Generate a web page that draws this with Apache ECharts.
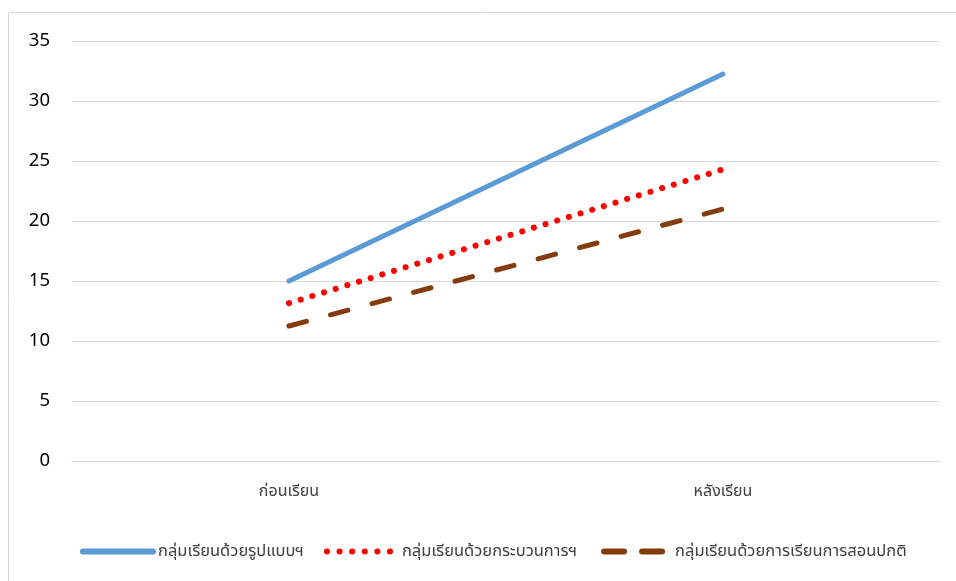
<!DOCTYPE html>
<html><head><meta charset="utf-8">
<script src="https://cdn.jsdelivr.net/npm/echarts@6/dist/echarts.min.js"></script>
<style>html,body{margin:0;padding:0;background:#fff}#c{width:956px;height:581px}</style>
</head><body><div id="c"></div>
<script>
const categories = ['ก่อนเรียน', 'หลังเรียน'];
const seriesNames = ['กลุ่มเรียนด้วยรูปแบบฯ', 'กลุ่มเรียนด้วยกระบวนการฯ', 'กลุ่มเรียนด้วยการเรียนการสอนปกติ'];
const modelGroup = [15.0, 32.25];
const processGroup = [13.15, 24.3];
const normalGroup = [11.25, 21.0];
const yTicks = [0, 5, 10, 15, 20, 25, 30, 35];

const FONT = '"Noto Sans", "Noto Sans Thai", "DejaVu Sans", sans-serif';
const styles = [
  {color: '#5b9bd5', width: 5, type: 'solid', cap: 'round'},
  {color: '#ff0000', width: 6, type: [0.1, 12.1], cap: 'round'},
  {color: '#843c0c', width: 5, type: [18, 25], cap: 'round'}
];
const legendStyles = [
  {color: '#5b9bd5', width: 6, type: 'solid', cap: 'round'},
  {color: '#ff0000', width: 6, type: [0.1, 12.5], cap: 'round'},
  {color: '#843c0c', width: 6, type: [20, 18], cap: 'round', dashOffset: -4}
];
const chart = echarts.init(document.getElementById('c'));
chart.setOption({
  animation: false,
  backgroundColor: '#fff',
  textStyle: {fontFamily: FONT},
  graphic: [{type: 'rect', shape: {x: 8.5, y: 12.5, width: 1000, height: 1000},
    style: {fill: 'none', stroke: '#d9d9d9', lineWidth: 1}, silent: true, z: -1}],
  grid: {left: 72, right: 16, top: 41, bottom: 120, containLabel: false},
  legend: {
    left: 75, top: 538, itemWidth: 70, itemHeight: 14, itemGap: 20,
    textStyle: {fontSize: 16.5, color: '#404040', fontFamily: FONT},
    itemStyle: {opacity: 0},
    data: seriesNames.map((n, i) => ({name: n, itemStyle: {opacity: 0}, lineStyle: legendStyles[i]}))
  },
  xAxis: {
    type: 'category', data: categories, boundaryGap: true,
    axisLine: {lineStyle: {color: '#d9d9d9', width: 1}},
    axisTick: {show: false},
    axisLabel: {margin: 22, fontSize: 16, color: '#404040', fontFamily: FONT}
  },
  yAxis: {
    type: 'value', min: yTicks[0], max: yTicks[yTicks.length - 1], interval: 5,
    axisLine: {show: false}, axisTick: {show: false},
    splitLine: {lineStyle: {color: '#d9d9d9', width: 1}},
    axisLabel: {margin: 22, fontSize: 18.5, color: '#000', fontFamily: FONT}
  },
  series: [
    {name: seriesNames[0], type: 'line', data: modelGroup, symbol: 'none',
      itemStyle: {color: styles[0].color}, lineStyle: styles[0]},
    {name: seriesNames[1], type: 'line', data: processGroup, symbol: 'none',
      itemStyle: {color: styles[1].color}, lineStyle: styles[1]},
    {name: seriesNames[2], type: 'line', data: normalGroup, symbol: 'none',
      itemStyle: {color: styles[2].color}, lineStyle: styles[2]}
  ]
});
</script></body></html>
